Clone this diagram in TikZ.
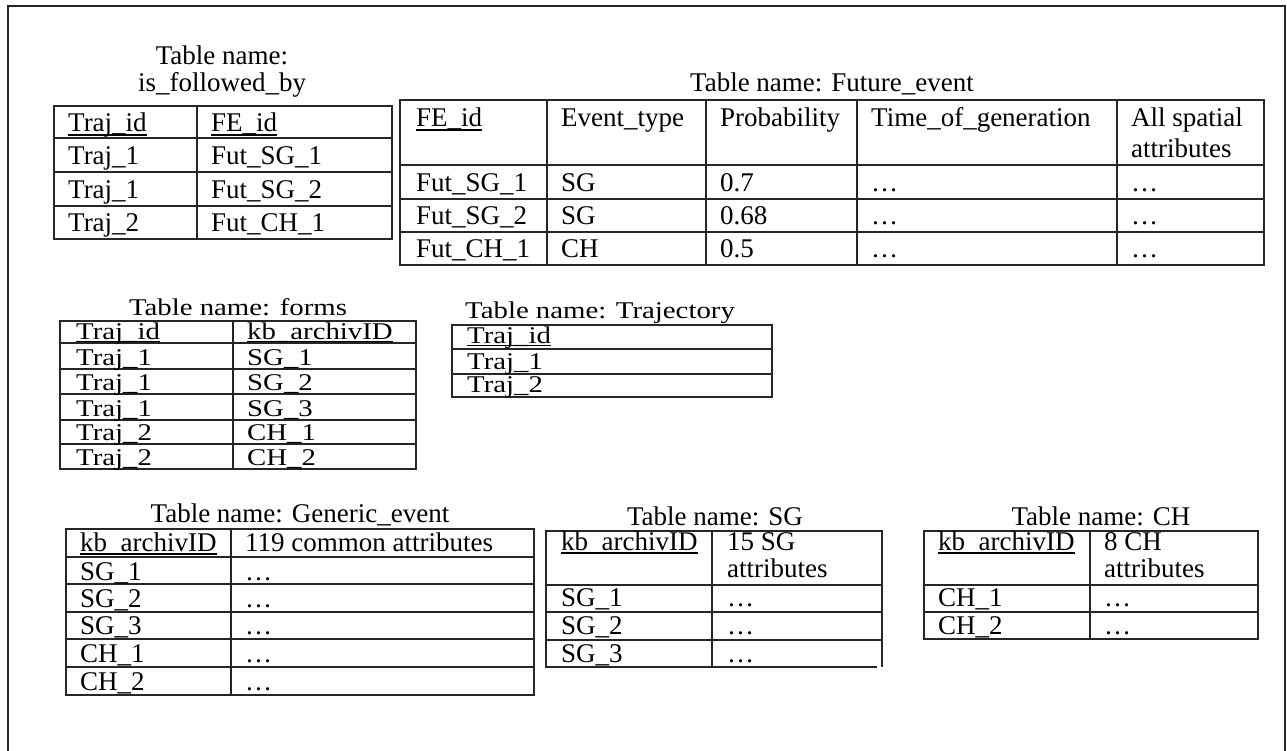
\documentclass[tikz,border=0pt]{standalone}
\usepackage{fontspec}
\setmainfont{Liberation Serif}
\newfontfamily\widefont[FakeStretch=1.2]{Liberation Serif}
\newlength\ulw
\newcommand\keyu[1]{\settowidth{\ulw}{#1}\rlap{\rule[-0.13em]{\ulw}{0.05em}}#1}
\tikzset{
  cell/.style={anchor=base west, inner sep=0pt, font=\fontsize{27}{31}\selectfont},
  wcell/.style={anchor=base west, inner sep=0pt, font=\widefont\fontsize{24}{28}\selectfont},
  ttl/.style={anchor=base, inner sep=0pt, font=\fontsize{27}{31}\selectfont},
  wttl/.style={anchor=base, inner sep=0pt, font=\widefont\fontsize{24}{28}\selectfont},
  grid/.style={line width=1.2pt, draw=black!85},
  frame/.style={line width=1.8pt, draw=black!85},
}
\begin{document}
\begin{tikzpicture}[x=1pt,y=-1pt]
\useasboundingbox (0,0) rectangle (1287,751);
% outer frame
\draw[frame] (8,751) -- (8,6) -- (1285,6) -- (1285,751);

% ---------- is_followed_by ----------
\node[ttl] (t1a) at (222,65) {Table name:};
\node[ttl] (t1b) at (222,92) {is\_followed\_by};
\draw[grid] (54,106) rectangle (392,239);
\draw[grid] (197,106) -- (197,239);
\foreach \yy in {138,172,206} \draw[grid] (54,\yy) -- (392,\yy);
\node[cell] (f11) at (68,132) {\keyu{Traj\_id}};
\node[cell] (f12) at (211,132) {\keyu{FE\_id}};
\node[cell] (f21) at (68,165) {Traj\_1};
\node[cell] (f22) at (211,165) {Fut\_SG\_1};
\node[cell] (f31) at (68,199) {Traj\_1};
\node[cell] (f32) at (211,199) {Fut\_SG\_2};
\node[cell] (f41) at (68,232) {Traj\_2};
\node[cell] (f42) at (211,232) {Fut\_CH\_1};

% ---------- Future_event ----------
\node[ttl] (t2) at (832,92) {Table name: Future\_event};
\draw[grid] (400,100) rectangle (1264,265);
\foreach \xx in {547,706,857,1117} \draw[grid] (\xx,100) -- (\xx,265);
\foreach \yy in {165,199,232} \draw[grid] (400,\yy) -- (1264,\yy);
\node[cell] (e11) at (416,127) {\keyu{FE\_id}};
\node[cell] (e12) at (561,127) {Event\_type};
\node[cell] (e13) at (720,127) {Probability};
\node[cell] (e14) at (871,127) {Time\_of\_generation};
\node[cell] (e15) at (1131,127) {All spatial};
\node[cell] (e15b) at (1131,158) {attributes};
\node[cell] (e21) at (416,192) {Fut\_SG\_1};
\node[cell] (e22) at (561,192) {SG};
\node[cell] (e23) at (720,192) {0.7};
\node[cell] (e24) at (871,192) {…};
\node[cell] (e25) at (1131,192) {…};
\node[cell] (e31) at (416,225) {Fut\_SG\_2};
\node[cell] (e32) at (561,225) {SG};
\node[cell] (e33) at (720,225) {0.68};
\node[cell] (e34) at (871,225) {…};
\node[cell] (e35) at (1131,225) {…};
\node[cell] (e41) at (416,258) {Fut\_CH\_1};
\node[cell] (e42) at (561,258) {CH};
\node[cell] (e43) at (720,258) {0.5};
\node[cell] (e44) at (871,258) {…};
\node[cell] (e45) at (1131,258) {…};

% ---------- forms ----------
\node[wttl] (t3) at (238,315) {Table name: forms};
\draw[grid] (60,321) rectangle (416,469);
\draw[grid] (233,321) -- (233,469);
\foreach \yy in {343,369,394,420,444} \draw[grid] (60,\yy) -- (416,\yy);
\node[wcell] (m11) at (76,339) {\keyu{Traj\_id}};
\node[wcell] (m12) at (247,339) {\keyu{kb\_archivID}};
\node[wcell] (m21) at (76,365) {Traj\_1};
\node[wcell] (m22) at (247,365) {SG\_1};
\node[wcell] (m31) at (76,390) {Traj\_1};
\node[wcell] (m32) at (247,390) {SG\_2};
\node[wcell] (m41) at (76,416) {Traj\_1};
\node[wcell] (m42) at (247,416) {SG\_3};
\node[wcell] (m51) at (76,440) {Traj\_2};
\node[wcell] (m52) at (247,440) {CH\_1};
\node[wcell] (m61) at (76,465) {Traj\_2};
\node[wcell] (m62) at (247,465) {CH\_2};

% ---------- Trajectory ----------
\node[wcell] (t4) at (465,318) {Table name: Trajectory};
\draw[grid] (452,325) rectangle (772,397);
\foreach \yy in {349,374} \draw[grid] (452,\yy) -- (772,\yy);
\node[wcell] (r1) at (467,343) {\keyu{Traj\_id}};
\node[wcell] (r2) at (467,369) {Traj\_1};
\node[wcell] (r3) at (467,392) {Traj\_2};

% ---------- Generic_event ----------
\node[ttl] (t5) at (300,522) {Table name: Generic\_event};
\draw[grid] (66,529) rectangle (534,695);
\draw[grid] (231,529) -- (231,695);
\foreach \yy in {557,584,612,639,667} \draw[grid] (66,\yy) -- (534,\yy);
\node[cell] (g11) at (80,551) {\keyu{kb\_archivID}};
\node[cell] (g12) at (245,551) {119 common attributes};
\node[cell] (g21) at (80,580) {SG\_1};
\node[cell] (g22) at (245,580) {…};
\node[cell] (g31) at (80,607) {SG\_2};
\node[cell] (g32) at (245,607) {…};
\node[cell] (g41) at (80,634) {SG\_3};
\node[cell] (g42) at (245,634) {…};
\node[cell] (g51) at (80,662) {CH\_1};
\node[cell] (g52) at (245,662) {…};
\node[cell] (g61) at (80,690) {CH\_2};
\node[cell] (g62) at (245,690) {…};

% ---------- SG ----------
\node[ttl] (t6) at (715,525) {Table name: SG};
\draw[grid] (877,667) -- (546,667) -- (546,531) -- (882,531) -- (882,667);
\draw[grid] (712,531) -- (712,667);
\foreach \yy in {585,612,640} \draw[grid] (546,\yy) -- (882,\yy);
\node[cell] (s11) at (561,550) {\keyu{kb\_archivID}};
\node[cell] (s12) at (727,550) {15 SG};
\node[cell] (s12b) at (727,577) {attributes};
\node[cell] (s21) at (561,606) {SG\_1};
\node[cell] (s22) at (727,606) {…};
\node[cell] (s31) at (561,634) {SG\_2};
\node[cell] (s32) at (727,634) {…};
\node[cell] (s41) at (561,662) {SG\_3};
\node[cell] (s42) at (727,662) {…};

% ---------- CH ----------
\node[ttl] (t7) at (1101,525) {Table name: CH};
\draw[grid] (924,531) rectangle (1258,639);
\draw[grid] (1090,531) -- (1090,639);
\foreach \yy in {585,612} \draw[grid] (924,\yy) -- (1258,\yy);
\node[cell] (c11) at (938,550) {\keyu{kb\_archivID}};
\node[cell] (c12) at (1104,550) {8 CH};
\node[cell] (c12b) at (1104,577) {attributes};
\node[cell] (c21) at (938,606) {CH\_1};
\node[cell] (c22) at (1104,606) {…};
\node[cell] (c31) at (938,634) {CH\_2};
\node[cell] (c32) at (1104,634) {…};
\end{tikzpicture}
\end{document}
